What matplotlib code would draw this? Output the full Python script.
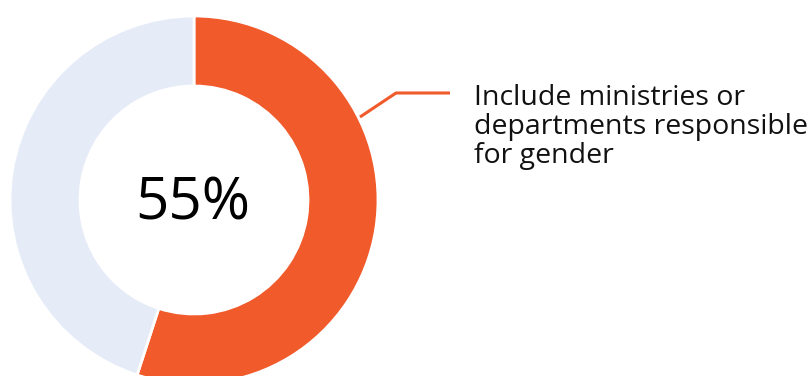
import matplotlib.pyplot as plt

labels = ["Include ministries or\ndepartments responsible\nfor gender", "Other"]
shares = [55, 45]
colors = ["#F15A2B", "#E6ECF7"]

fig = plt.figure(figsize=(8.12, 3.76), dpi=100)
ax = fig.add_axes([0, 0, 1, 1])

cx, cy, r = 194, 176, 184
ax.pie(shares, colors=colors, startangle=90, counterclock=False,
       center=(cx, cy), radius=r, frame=True,
       wedgeprops=dict(width=70, edgecolor="white", linewidth=2))
ax.set_xlim(0, 812)
ax.set_ylim(0, 376)
ax.set_aspect("equal")
ax.axis("off")

ax.text(cx - 1, 376 - 204, f"{shares[0]}%", ha="center", va="center",
        fontsize=42, family="Open Sans", color="black")

# leader line to the label
ax.plot([360, 396, 450], [376 - 117, 376 - 93, 376 - 93], color=colors[0], lw=2.2,
        solid_capstyle="butt")
for i, line in enumerate(labels[0].split("\n")):
    ax.text(474, 376 - 105 - 29 * i, line, ha="left", va="baseline",
            fontsize=20.5, family="Open Sans", color="#111111")

fig.savefig("out.png", dpi=100)
